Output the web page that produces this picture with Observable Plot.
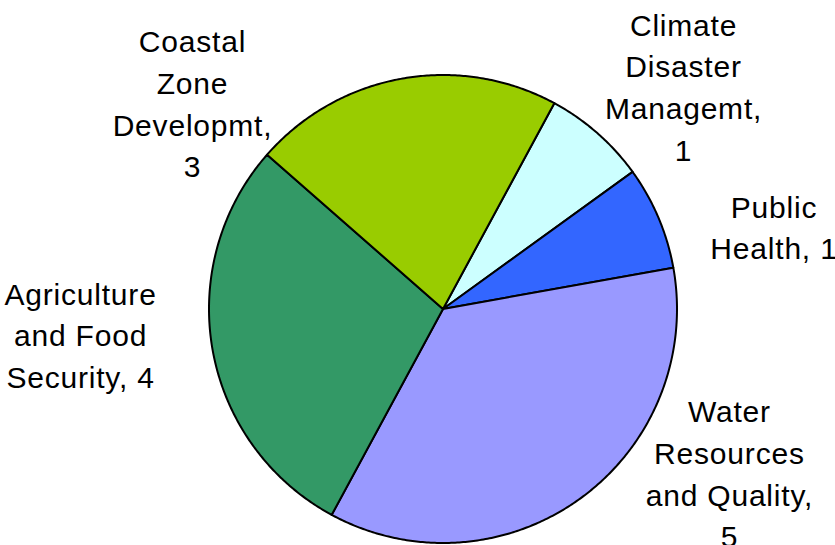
<!DOCTYPE html>
<html><head><meta charset="utf-8">
<script src="https://cdn.jsdelivr.net/npm/d3@7"></script>
<script src="https://cdn.jsdelivr.net/npm/@observablehq/plot@0.6"></script>
<style>html,body{margin:0;padding:0;background:#fff;overflow:hidden}</style>
</head><body><div id="chart"></div>
<script>
// Data
const categories = ["Climate Disaster Managemt", "Public Health", "Water Resources and Quality", "Agriculture and Food Security", "Coastal Zone Developmt"];
const values = [1, 1, 5, 4, 3];
const labelLines = ["Climate\nDisaster\nManagemt,\n1", "Public\nHealth, 1", "Water\nResources\nand Quality,\n5", "Agriculture\nand Food\nSecurity, 4", "Coastal\nZone\nDevelopmt,\n3"];

// Styling / layout
const colors = ["#CCFFFF", "#3366FF", "#9999FF", "#339966", "#99CC00"];
const startDeg = 28.4;
// label centres in pie-radius units
const labelLayout = [[1.028, 0.9585], [1.4145, 0.358], [1.224, -0.694], [-1.549, -0.102], [-1.0705, 0.887]];

const a0 = startDeg * Math.PI / 180;
const arcs = d3.pie().sort(null).value(d => d).startAngle(a0).endAngle(a0 + 2 * Math.PI)(values);

const slicePts = [];
arcs.forEach((a, i) => {
  slicePts.push({cat: categories[i], x: 0, y: 0});
  const n = Math.max(2, Math.ceil((a.endAngle - a.startAngle) / (Math.PI / 360)));
  for (let j = 0; j <= n; j++) {
    const t = a.startAngle + (a.endAngle - a.startAngle) * j / n;
    slicePts.push({cat: categories[i], x: Math.sin(t), y: Math.cos(t)});
  }
  slicePts.push({cat: categories[i], x: 0, y: 0});
});

const labels = categories.map((c, i) => ({cat: c, text: labelLines[i], x: labelLayout[i][0], y: labelLayout[i][1]}));

const chart = Plot.plot({
  width: 835,
  height: 545,
  margin: 0,
  x: {domain: [-1, 1], range: [208.5, 676.5], axis: null},
  y: {domain: [-1, 1], range: [542.5, 74.5], axis: null},
  color: {domain: categories, range: colors},
  style: {fontFamily: "'Liberation Sans', Arial, sans-serif", letterSpacing: "0.8px", background: "#fff", overflow: "visible"},
  marks: [
    Plot.line(slicePts, {x: "x", y: "y", z: "cat", fill: "cat", stroke: "#000", strokeWidth: 2, strokeLinejoin: "round"}),
    Plot.text(labels, {x: "x", y: "y", text: "text", fontSize: 30, lineHeight: 1.389, fill: "#000", textAnchor: "middle"})
  ]
});
document.getElementById("chart").appendChild(chart);
</script>
</body></html>
